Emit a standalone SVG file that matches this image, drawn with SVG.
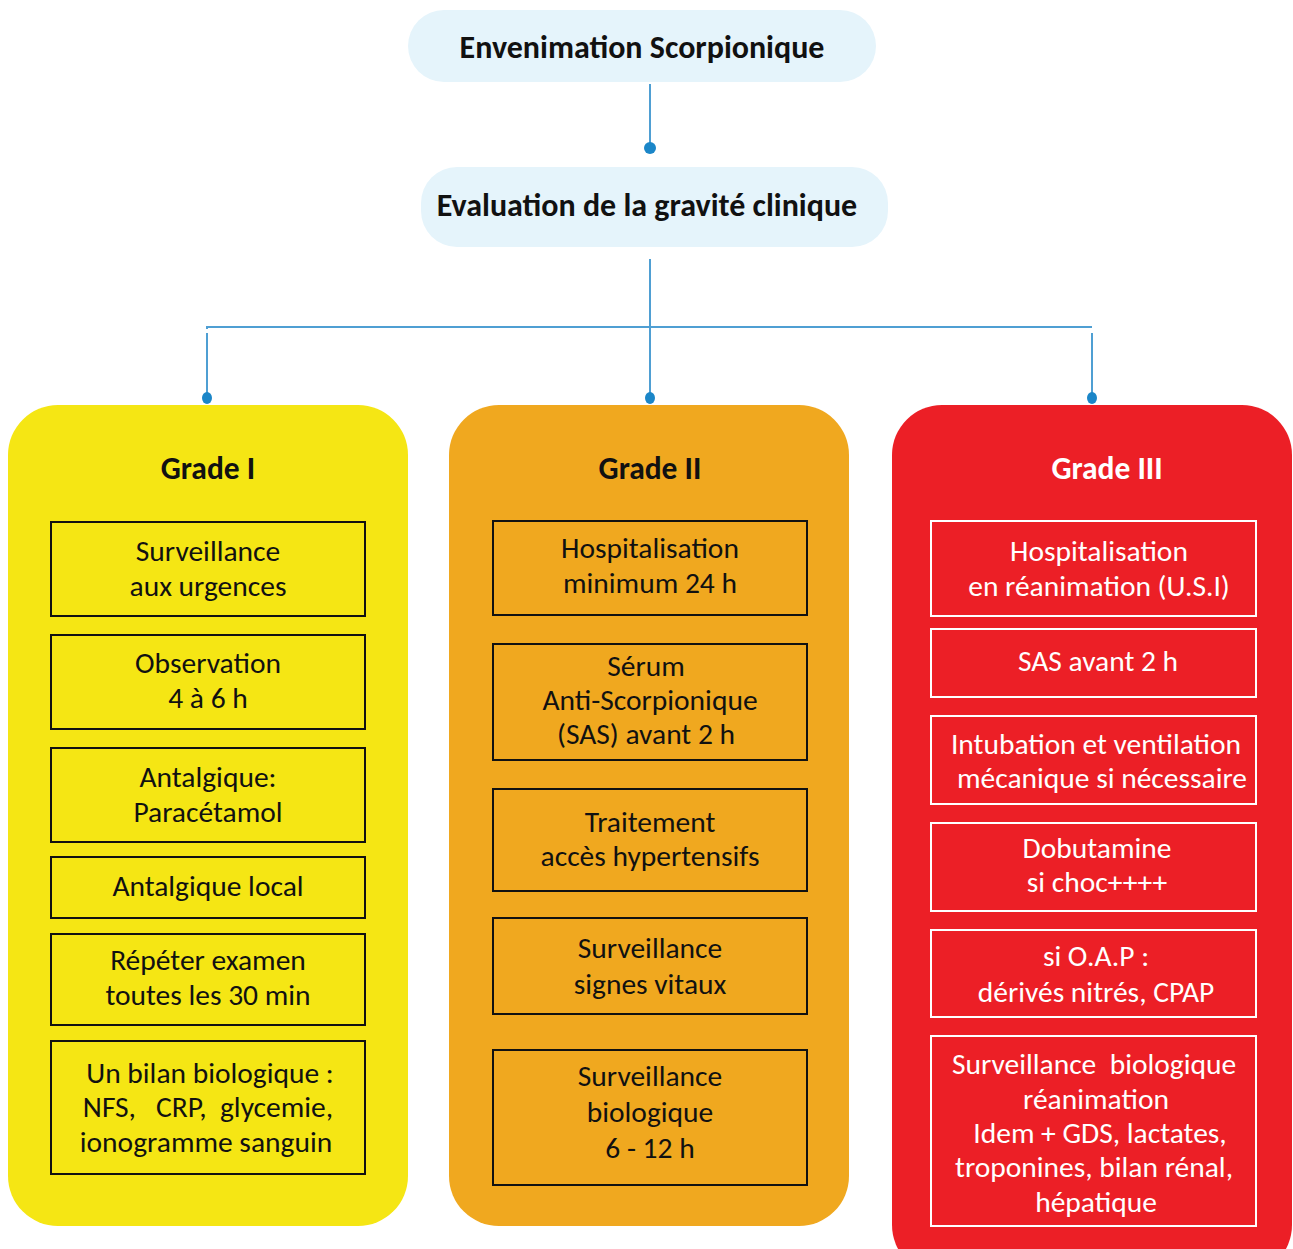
<svg xmlns="http://www.w3.org/2000/svg" width="1293" height="1249" viewBox="0 0 1293 1249">
  <style>
    text { font-family: Carlito, Calibri, Lato, "Open Sans", sans-serif; text-anchor: middle; }
    .title { font-size: 32px; font-weight: bold; fill: #111; }
    .head { font-size: 31.5px; font-weight: bold; fill: #111; }
    .item { font-size: 29.5px; fill: #111; }
    .w { fill: #ffffff; }
    .top { fill: #e5f4fb; }
    .box { fill: none; stroke: #111; stroke-width: 2; }
    .boxw { fill: none; stroke: #ffffff; stroke-width: 2; }
    .wire { stroke: #4f9fd3; stroke-width: 2; fill: none; }
    .dot { fill: #1b86c8; }
  </style>

  <!-- connectors -->
  <g id="connectors">
    <line class="wire" x1="650" y1="84" x2="650" y2="144"/>
    <circle class="dot" cx="650" cy="148" r="6"/>
    <line class="wire" x1="650" y1="259" x2="650" y2="393"/>
    <line class="wire" x1="207" y1="327" x2="1092" y2="327" stroke-width="2.5"/>
    <line class="wire" x1="207" y1="326" x2="207" y2="329"/>
    <line class="wire" x1="207" y1="333" x2="207" y2="393"/>
    <line class="wire" x1="1092" y1="333" x2="1092" y2="393"/>
    <ellipse class="dot" cx="207" cy="398" rx="5" ry="6"/>
    <ellipse class="dot" cx="650" cy="398" rx="5" ry="6"/>
    <ellipse class="dot" cx="1092" cy="398" rx="5" ry="6"/>
  </g>

  <g id="root">
    <rect class="top" x="408" y="10" width="468" height="72" rx="36"/>
    <text class="title" x="642" y="58">Envenimation Scorpionique</text>
  </g>

  <g id="evaluation">
    <rect class="top" x="421" y="167" width="467" height="80" rx="36"/>
    <text class="title" x="647" y="216">Evaluation de la gravité clinique</text>
  </g>

  <!-- Grade I -->
  <g id="grade1">
    <rect x="8" y="405" width="400" height="821" rx="50" fill="#f5e614"/>
    <text class="head" x="208" y="479">Grade I</text>
    <rect class="box" x="51" y="522" width="314" height="94"/>
    <text class="item" x="208" y="561">Surveillance</text>
    <text class="item" x="208" y="596">aux urgences</text>
    <rect class="box" x="51" y="635" width="314" height="94"/>
    <text class="item" x="208" y="673">Observation</text>
    <text class="item" x="208" y="708">4 à 6 h</text>
    <rect class="box" x="51" y="748" width="314" height="94"/>
    <text class="item" x="208" y="787">Antalgique:</text>
    <text class="item" x="208" y="822">Paracétamol</text>
    <rect class="box" x="51" y="857" width="314" height="61"/>
    <text class="item" x="208" y="896">Antalgique local</text>
    <rect class="box" x="51" y="934" width="314" height="91"/>
    <text class="item" x="208" y="970">Répéter examen</text>
    <text class="item" x="208" y="1005">toutes les 30 min</text>
    <rect class="box" x="51" y="1041" width="314" height="133"/>
    <text class="item" x="210" y="1083">Un bilan biologique :</text>
    <text class="item" x="208" y="1117" xml:space="preserve">NFS,   CRP,  glycemie,</text>
    <text class="item" x="206" y="1152">ionogramme sanguin</text>
  </g>

  <!-- Grade II -->
  <g id="grade2">
    <rect x="449" y="405" width="400" height="821" rx="50" fill="#f0a81f"/>
    <text class="head" x="650" y="479">Grade II</text>
    <rect class="box" x="493" y="521" width="314" height="94"/>
    <text class="item" x="650" y="558">Hospitalisation</text>
    <text class="item" x="650" y="593">minimum 24 h</text>
    <rect class="box" x="493" y="644" width="314" height="116"/>
    <text class="item" x="646" y="676">Sérum</text>
    <text class="item" x="650" y="710">Anti-Scorpionique</text>
    <text class="item" x="646" y="744">(SAS) avant 2 h</text>
    <rect class="box" x="493" y="789" width="314" height="102"/>
    <text class="item" x="650" y="832">Traitement</text>
    <text class="item" x="650" y="866">accès hypertensifs</text>
    <rect class="box" x="493" y="918" width="314" height="96"/>
    <text class="item" x="650" y="958">Surveillance</text>
    <text class="item" x="650" y="994">signes vitaux</text>
    <rect class="box" x="493" y="1050" width="314" height="135"/>
    <text class="item" x="650" y="1086">Surveillance</text>
    <text class="item" x="650" y="1122">biologique</text>
    <text class="item" x="650" y="1158">6 - 12 h</text>
  </g>

  <!-- Grade III -->
  <g id="grade3">
    <rect x="892" y="405" width="400" height="870" rx="50" fill="#ec1f26"/>
    <text class="head w" x="1107" y="479">Grade III</text>
    <rect class="boxw" x="931" y="521" width="325" height="95"/>
    <text class="item w" x="1099" y="561">Hospitalisation</text>
    <text class="item w" x="1099" y="596">en réanimation (U.S.I)</text>
    <rect class="boxw" x="931" y="629" width="325" height="68"/>
    <text class="item w" x="1098" y="671">SAS avant 2 h</text>
    <rect class="boxw" x="931" y="716" width="325" height="88"/>
    <text class="item w" x="1096" y="754">Intubation et ventilation</text>
    <text class="item w" x="1102" y="788">mécanique si nécessaire</text>
    <rect class="boxw" x="931" y="823" width="325" height="88"/>
    <text class="item w" x="1097" y="858">Dobutamine</text>
    <text class="item w" x="1097" y="892">si choc++++</text>
    <rect class="boxw" x="931" y="930" width="325" height="87"/>
    <text class="item w" x="1096" y="966">si O.A.P :</text>
    <text class="item w" x="1096" y="1002">dérivés nitrés, CPAP</text>
    <rect class="boxw" x="931" y="1036" width="325" height="190"/>
    <text class="item w" x="1094" y="1074" xml:space="preserve">Surveillance  biologique</text>
    <text class="item w" x="1096" y="1109">réanimation</text>
    <text class="item w" x="1100" y="1143">Idem + GDS, lactates,</text>
    <text class="item w" x="1094" y="1177">troponines, bilan rénal,</text>
    <text class="item w" x="1096" y="1212">hépatique</text>
  </g>
</svg>
